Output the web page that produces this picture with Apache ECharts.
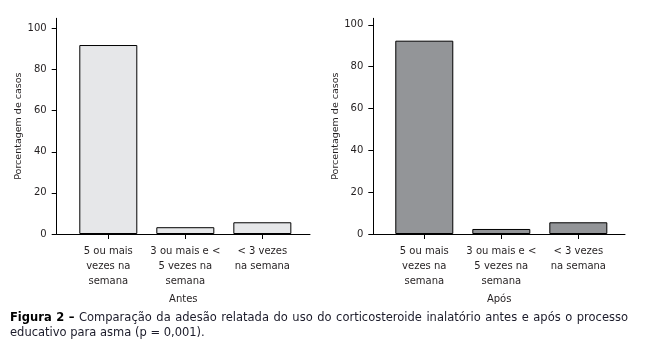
<!DOCTYPE html>
<html>
<head>
<meta charset="utf-8">
<script src="https://cdn.jsdelivr.net/npm/echarts@6/dist/echarts.min.js"></script>
<style>
html,body{margin:0;padding:0;background:#fff;}
#chart{width:653px;height:363px;}
</style>
</head>
<body>
<div id="chart"></div>
<script>
const categories = ['5 ou mais\nvezes na\nsemana', '3 ou mais e <\n5 vezes na\nsemana', '< 3 vezes\nna semana'];
const antesValues = [91.9, 3.3, 5.7];
const aposValues = [92.4, 2.4, 5.6];
const yTicks = [0, 20, 40, 60, 80, 100];
const yAxisTitle = 'Porcentagem de casos';
const panelNames = ['Antes', 'Após'];
const captionBoldWords = ['Figura', '2', '–'];
const captionLine1Words = ['Comparação', 'da', 'adesão', 'relatada', 'do', 'uso', 'do', 'corticosteroide', 'inalatório', 'antes', 'e', 'após', 'o', 'processo'];
const captionLine2 = 'educativo para asma (p = 0,001).';

const FONT = 'DejaVu Sans';
const TXT = '#231f20';
const CAP_SIZE = 11.5;
const CAP_WIDTH = 618;

// justify caption line 1 (layout only)
const ctx = document.createElement('canvas').getContext('2d');
ctx.font = 'bold ' + CAP_SIZE + 'px "' + FONT + '"';
let total = 0;
captionBoldWords.forEach(w => total += ctx.measureText(w).width);
ctx.font = CAP_SIZE + 'px "' + FONT + '"';
captionLine1Words.forEach(w => total += ctx.measureText(w).width);
const nGaps = captionBoldWords.length + captionLine1Words.length - 1;
const gapW = Math.max(2, (CAP_WIDTH - total) / nGaps);
const line1 = captionBoldWords.map(w => '{b|' + w + '}').join('{g| }') + '{g| }' +
  captionLine1Words.map(w => '{n|' + w + '}').join('{g| }');

function xAxisCfg(gi, min, max, name) {
  return {
    type: 'value', gridIndex: gi, min: min, max: max,
    name: name, nameLocation: 'middle', nameGap: 60,
    nameTextStyle: {fontFamily: FONT, fontSize: 10, color: TXT},
    axisLine: {show: true, onZero: false, lineStyle: {color: '#000', width: 1}},
    axisTick: {show: true, length: 5, lineStyle: {color: '#000'}, customValues: [0, 1, 2]},
    axisLabel: {
      customValues: [0, 1, 2], margin: 10, lineHeight: 15,
      fontFamily: FONT, fontSize: 10, color: TXT,
      formatter: v => categories[Math.round(v)]
    },
    splitLine: {show: false}
  };
}
function yAxisCfg(gi, max) {
  return {
    type: 'value', gridIndex: gi, min: 0, max: max,
    name: yAxisTitle, nameLocation: 'middle', nameGap: 30, nameRotate: 90,
    nameTextStyle: {fontFamily: FONT, fontSize: 9.5, color: TXT},
    axisLine: {show: true, onZero: false, lineStyle: {color: '#000', width: 1}},
    axisTick: {show: true, length: 5, lineStyle: {color: '#000'}, customValues: yTicks},
    axisLabel: {customValues: yTicks, margin: 10, fontFamily: FONT, fontSize: 10, color: TXT},
    splitLine: {show: false}
  };
}

const chart = echarts.init(document.getElementById('chart'), null, {renderer: 'canvas'});
chart.setOption({
  animation: false,
  backgroundColor: '#fff',
  title: {
    left: 10, top: 311, padding: 0,
    text: line1 + '\n{n|' + captionLine2 + '}',
    textStyle: {
      fontFamily: FONT, fontSize: CAP_SIZE, color: '#1b1b2a', fontWeight: 'normal', lineHeight: 15,
      rich: {
        b: {fontFamily: FONT, fontSize: CAP_SIZE, fontWeight: 'bold', color: '#000', lineHeight: 15},
        n: {fontFamily: FONT, fontSize: CAP_SIZE, color: '#1b1b2a', lineHeight: 15},
        g: {fontFamily: FONT, fontSize: CAP_SIZE, width: gapW, lineHeight: 15}
      }
    }
  },
  grid: [
    {left: 56.7, right: 343, top: 18.3, bottom: 129, containLabel: false},
    {left: 373.3, right: 28, top: 18.3, bottom: 129, containLabel: false}
  ],
  xAxis: [xAxisCfg(0, -0.670, 2.619, panelNames[0]), xAxisCfg(1, -0.662, 2.606, panelNames[1])],
  yAxis: [yAxisCfg(0, 104.9), yAxisCfg(1, 103.1)],
  series: [
    {
      type: 'bar', xAxisIndex: 0, yAxisIndex: 0, barWidth: 58,
      data: antesValues.map((v, i) => [i, v]),
      itemStyle: {color: '#e6e7e9', borderColor: '#000', borderWidth: 1}
    },
    {
      type: 'bar', xAxisIndex: 1, yAxisIndex: 1, barWidth: 58,
      data: aposValues.map((v, i) => [i, v]),
      itemStyle: {color: '#939598', borderColor: '#000', borderWidth: 1}
    }
  ]
});
</script>
</body>
</html>
